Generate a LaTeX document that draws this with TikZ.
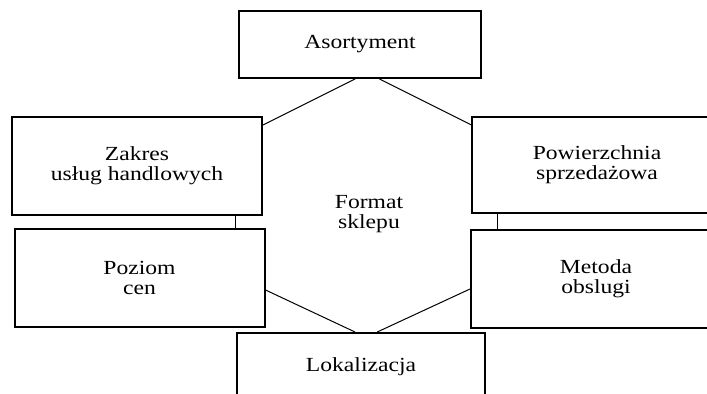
\documentclass[tikz,border=0pt]{standalone}
\usepackage{fontspec}
\setmainfont{Liberation Serif}[FakeStretch=1.18]
\usepackage{tikz}
\usetikzlibrary{positioning,calc}

\begin{document}
\begin{tikzpicture}[x=0.5pt,y=-0.5pt,
    box/.style={draw,line width=1pt,align=center,minimum width=125pt,minimum height=49pt,inner sep=0pt},
    link/.style={line width=0.5pt},
    font=\fontsize{10}{10}\selectfont]
      \useasboundingbox (0,0) rectangle (707,394);
      \node[box,minimum width=121pt,minimum height=33.5pt] (aso) at (360,44.5) {Asortyment};
      \node[box] (zak) at (137,166) {Zakres\\usług handlowych};
      \node[box] (poz) [below=6pt of zak,xshift=1.25pt] {Poziom\\cen};
      \node[box,minimum height=48pt] (pow) at (597,165) {Powierzchnia\\sprzedażowa};
      \node[box] (met) [below=7.5pt of pow,xshift=-0.5pt] {Metoda\\obslugi};
      \node[box,minimum width=124pt,minimum height=33.5pt] (lok) at (361,366.5) {Lokalizacja};
      \node[align=center] (fmt) at (369,214) {Format\\sklepu};
      \coordinate (a1) at ($(aso.south west)!0.48!(aso.south east)$);
      \coordinate (a2) at ($(aso.south west)!0.58!(aso.south east)$);
      \coordinate (z1) at ($(zak.north east)!0.09!(zak.south east)$);
      \coordinate (w1) at ($(pow.north west)!0.09!(pow.south west)$);
      \coordinate (z2) at ($(zak.south west)!0.89!(zak.south east)$);
      \coordinate (w2) at ($(pow.south west)!0.104!(pow.south east)$);
      \coordinate (p1) at ($(poz.north east)!0.62!(poz.south east)$);
      \coordinate (m1) at ($(met.north west)!0.60!(met.south west)$);
      \coordinate (l1) at ($(lok.north west)!0.476!(lok.north east)$);
      \coordinate (l2) at ($(lok.north west)!0.565!(lok.north east)$);
      \path[link] (a1) edge (z1)
      (a2) edge (w1)
      (z2) edge (z2 |- poz.north)
      (w2) edge (w2 |- met.north)
      (p1) edge (l1)
      (m1) edge (l2);
    \end{tikzpicture}
\end{document}
